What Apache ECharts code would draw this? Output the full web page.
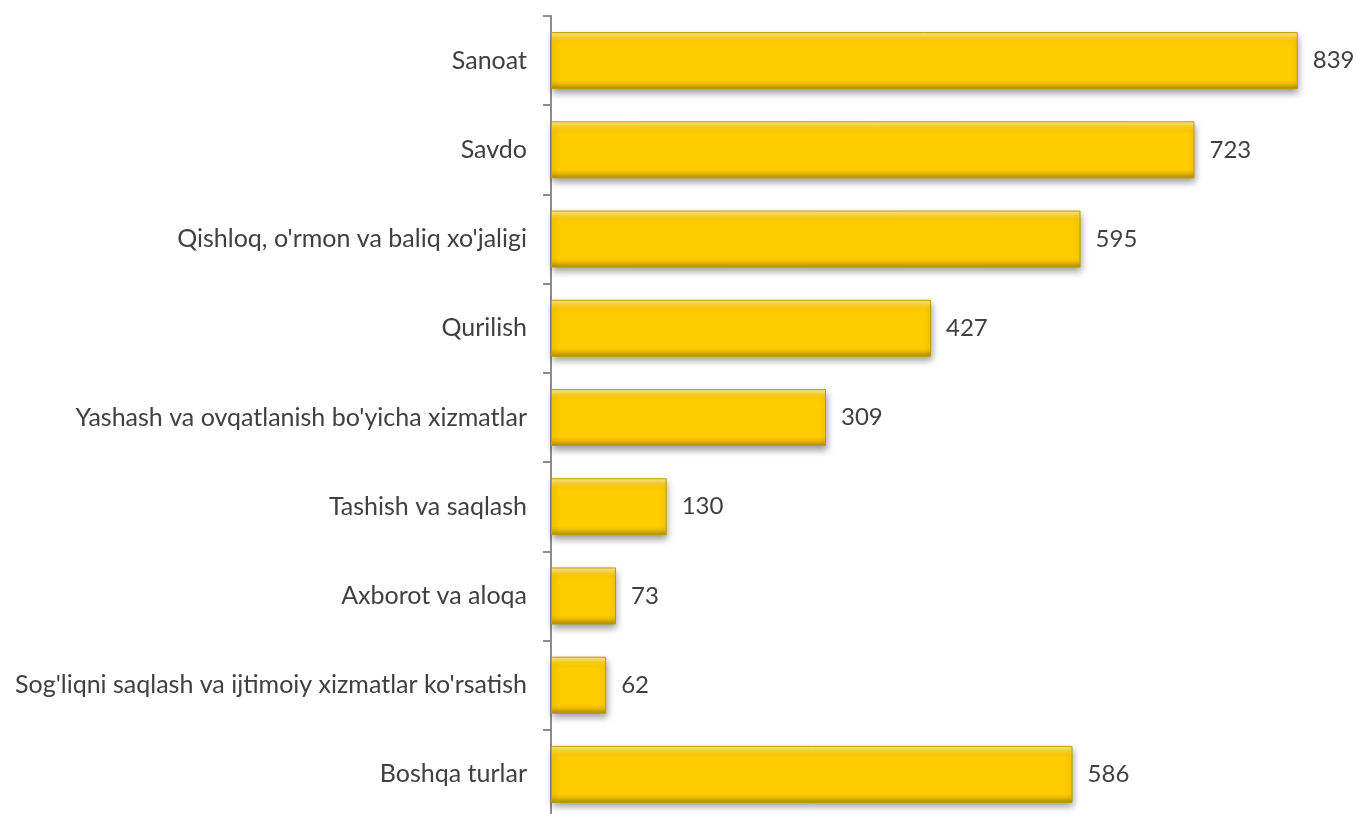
<!DOCTYPE html>
<html>
<head>
<meta charset="utf-8">
<script src="https://cdn.jsdelivr.net/npm/echarts@6/dist/echarts.min.js"></script>
<style>
html,body{margin:0;padding:0;background:#fff;}
#chart{width:1357px;height:814px;}
</style>
</head>
<body>
<div id="chart"></div>
<script>
const categories = [
  "Sanoat",
  "Savdo",
  "Qishloq, o'rmon va baliq xo'jaligi",
  "Qurilish",
  "Yashash va ovqatlanish bo'yicha xizmatlar",
  "Tashish va saqlash",
  "Axborot va aloqa",
  "Sog'liqni saqlash va ijtimoiy xizmatlar ko'rsatish",
  "Boshqa turlar"
];
const values = [839, 723, 595, 427, 309, 130, 73, 62, 586];

const chart = echarts.init(document.getElementById('chart'), null, {renderer: 'canvas'});
const gold = new echarts.graphic.LinearGradient(0, 0, 0, 1, [
  {offset: 0, color: '#FFEB8F'},
  {offset: 0.1, color: '#FFD42A'},
  {offset: 0.16, color: '#FFCC00'},
  {offset: 0.84, color: '#FFCC00'},
  {offset: 0.9, color: '#EDBD00'},
  {offset: 1, color: '#B08C00'}
]);
chart.setOption({
  animation: false,
  grid: {left: 551, right: 5, top: 16, bottom: -5, containLabel: false, outerBoundsMode: 'none'},
  xAxis: {
    type: 'value', min: 0, max: 900,
    show: false
  },
  yAxis: {
    type: 'category',
    data: categories,
    inverse: true,
    axisLine: {show: true, lineStyle: {color: '#8C8C8C', width: 2}},
    axisTick: {show: true, length: 8, lineStyle: {color: '#8C8C8C', width: 2}},
    axisLabel: {
      margin: 24,
      color: '#404040',
      fontFamily: 'Lato',
      fontSize: 25
    },
    splitLine: {show: false}
  },
  series: [{
    type: 'bar',
    data: values,
    barWidth: 57,
    itemStyle: {
      color: gold,
      borderColor: '#BF9A00',
      borderWidth: 1,
      shadowColor: 'rgba(0,0,0,0.4)',
      shadowBlur: 7,
      shadowOffsetX: 1,
      shadowOffsetY: 4
    },
    label: {
      show: true,
      position: 'right',
      distance: 15,
      color: '#404040',
      fontFamily: 'Lato',
      fontSize: 24
    }
  }]
});
</script>
</body>
</html>
